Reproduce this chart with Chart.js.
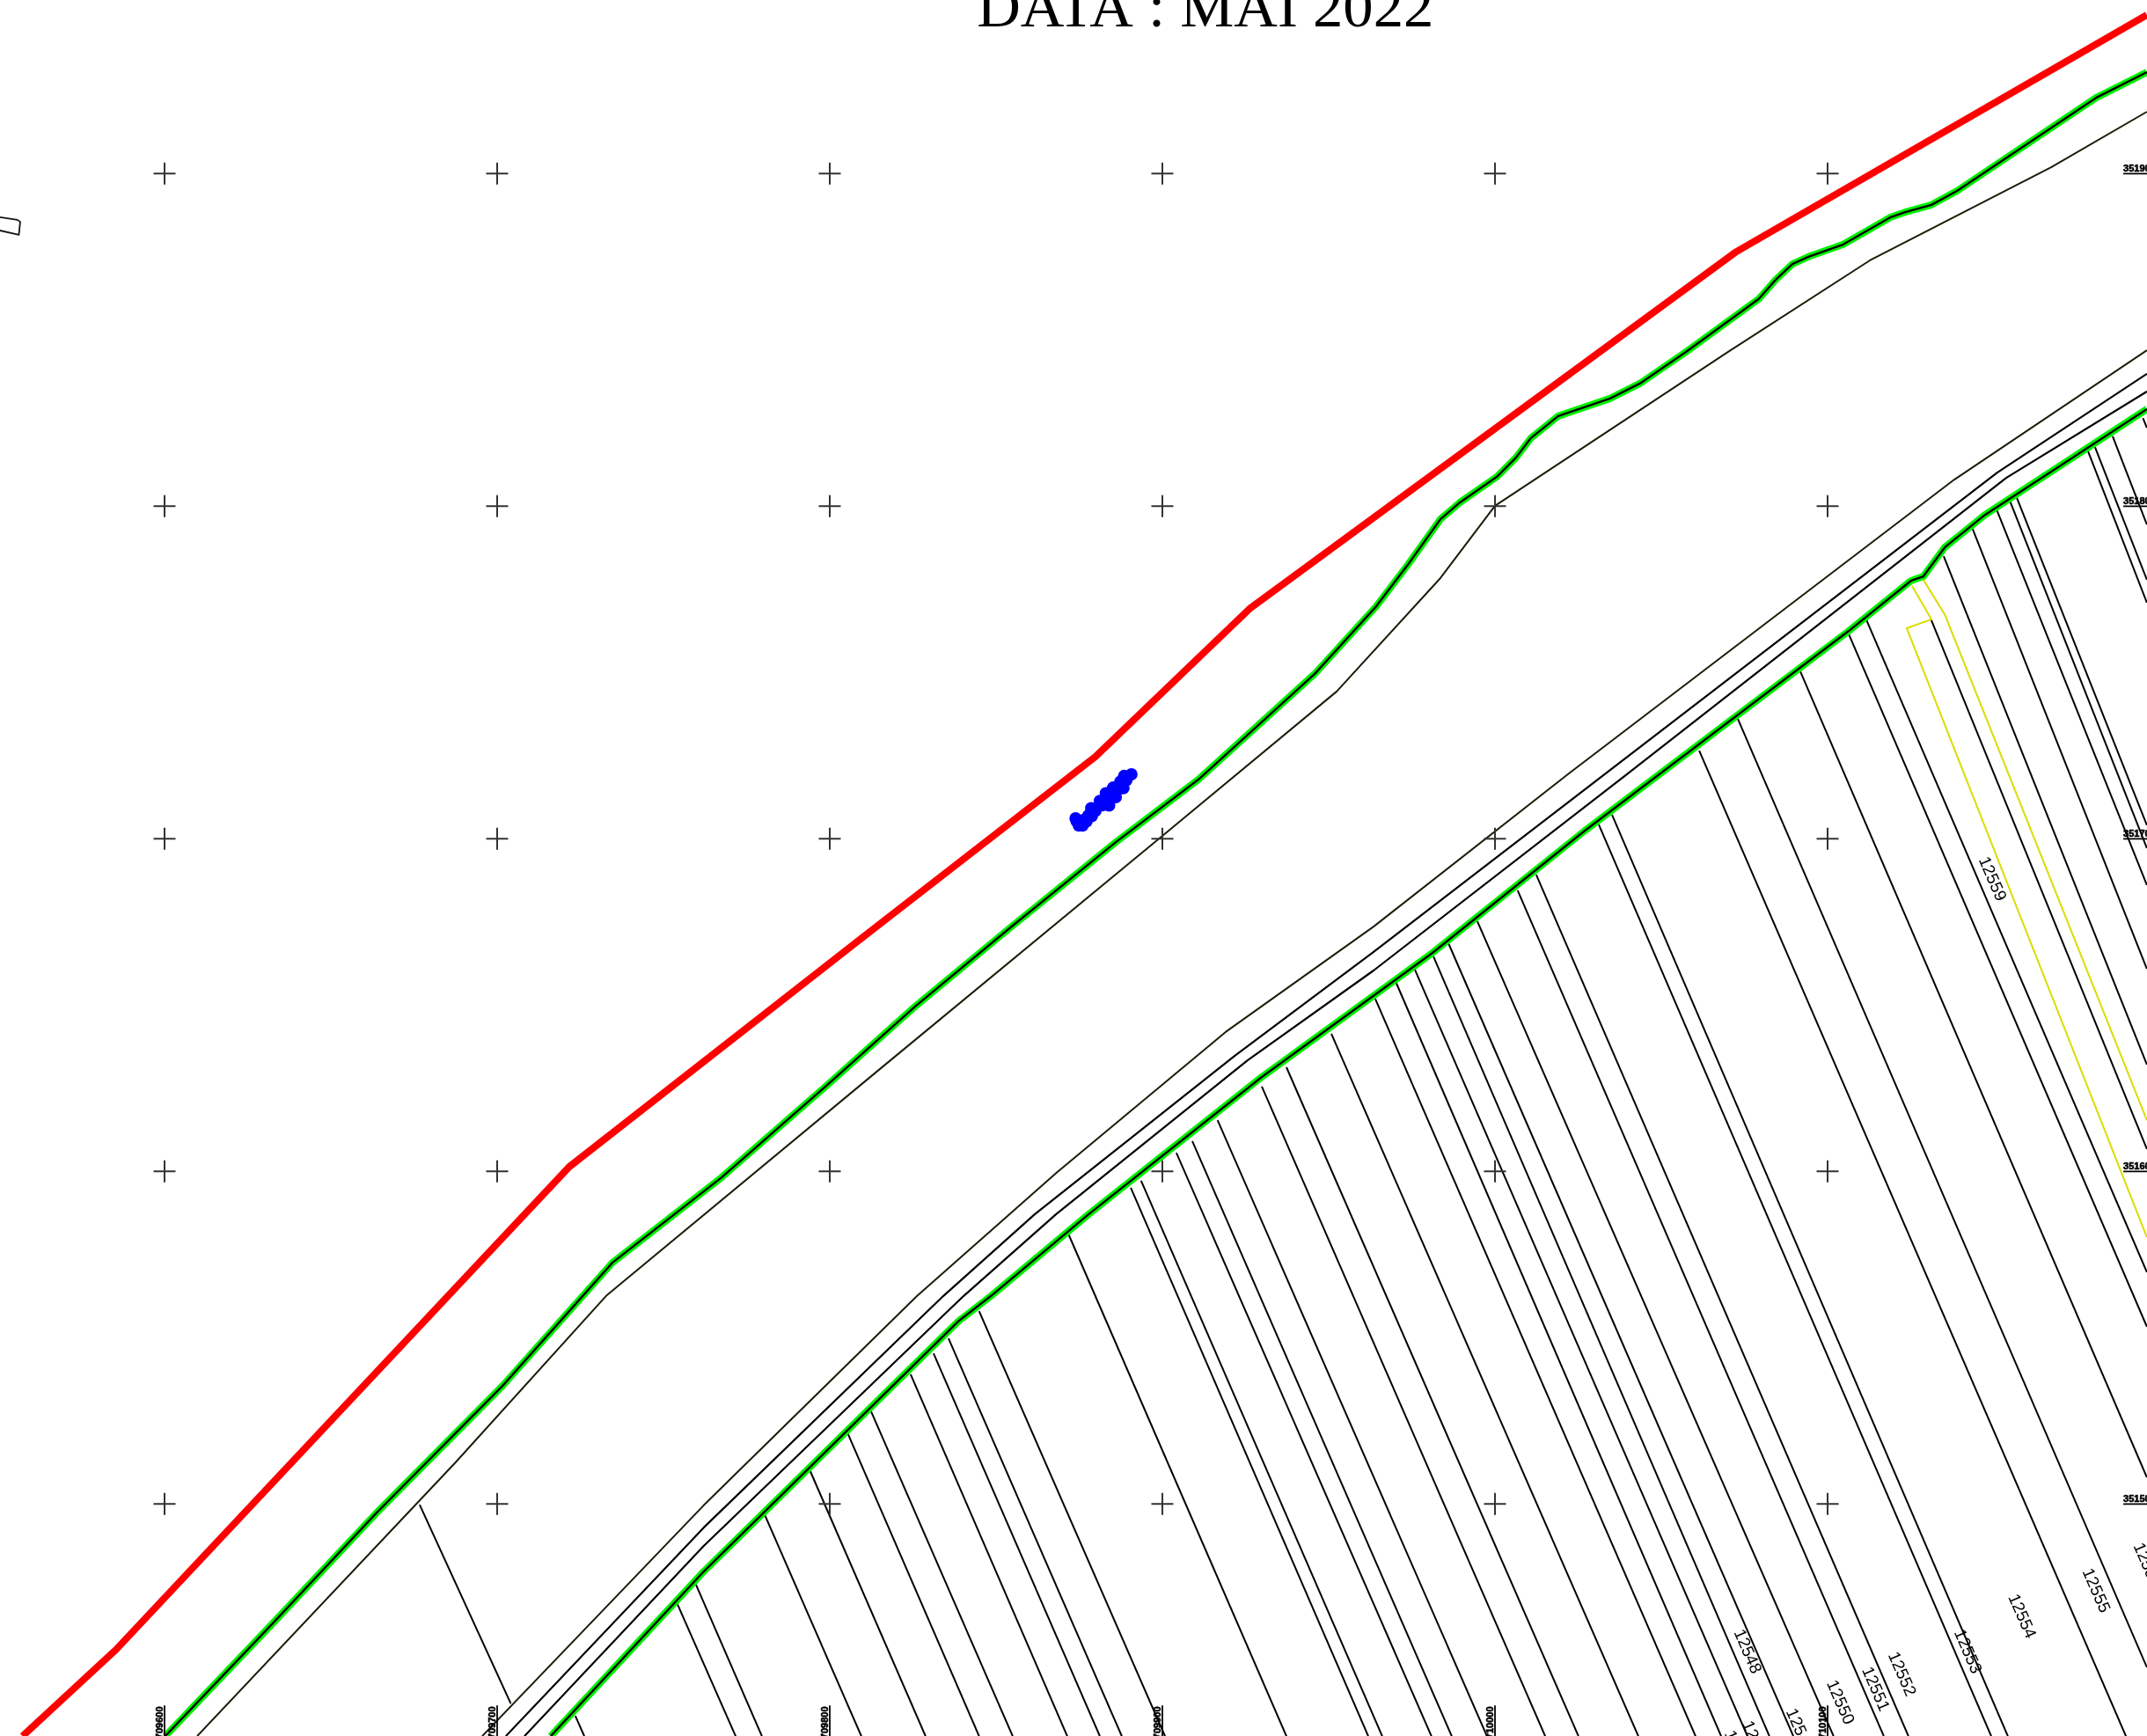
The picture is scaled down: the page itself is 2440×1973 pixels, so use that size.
<!DOCTYPE html>
<html lang="fr">
<head>
<meta charset="utf-8">
<title>DATA : MAI 2022</title>
<script src="https://cdn.jsdelivr.net/npm/chart.js@4/dist/chart.umd.min.js"></script>
<style>
  html, body { margin: 0; padding: 0; background: #fff; overflow: hidden; }
  canvas { display: block; }
</style>
</head>
<body>
<canvas id="plan" width="2440" height="1973"></canvas>
<script>
// All positions are map metres: E = easting - 709000, N = northing - 351000
const titleText = 'DATA : MAI 2022';
const titleE = 912.9, titleN = 944.3;

// grid crosses every 100 m
const gridE = [600, 700, 800, 900, 1000, 1100];
const gridN = [900, 800, 700, 600, 500];
const gridELabels = ['709600', '709700', '709800', '709900', '710000', '710100'];
const gridNLabels = ['351900', '351800', '351700', '351600', '351500'];
const gridELabelN = 429.4;   // where the bottom labels start
const gridNLabelE = 1188.9;  // where the right labels start

// red boundary
const redE = [557.3, 585.4, 721.7, 810.3, 879.9, 926.5, 1072.2, 1196.0];
const redN = [430.2, 456.2, 601.4, 670.7, 724.7, 769.4, 876.3, 947.7];

// upper green line
const greenAE = [600.2, 632.8, 663.8, 701.6, 734.7, 767.5, 798.7, 825.9, 855.0, 886.0, 910.8, 945.8, 964.3, 973.8, 983.6, 989.4, 1000.5, 1006.3, 1010.8, 1019.0, 1034.6, 1043.9, 1057.4, 1079.3, 1084.4, 1089.4, 1094.2, 1104.7, 1119.0, 1123.3, 1131.2, 1138.9, 1180.7, 1196.0];
const greenAN = [430.2, 464.4, 497.4, 535.5, 572.6, 598.2, 625.5, 649.8, 673.9, 699.0, 717.8, 749.6, 769.9, 782.4, 796.1, 801.1, 808.8, 814.6, 820.5, 827.1, 832.4, 837.1, 846.4, 862.3, 868.1, 872.8, 875.0, 878.7, 886.9, 888.4, 890.6, 894.8, 922.8, 930.5];

// thin line under the upper green line
const fenceAE = [609.8, 687.5, 733.0, 815.1, 900.0, 952.4, 983.6, 1000.0, 1070.1, 1112.7, 1167.2, 1196.0];
const fenceAN = [430.2, 512.5, 562.8, 630.8, 700.9, 744.3, 778.4, 800.1, 846.4, 873.9, 901.9, 918.6];

// road, three parallel lines
const fenceBE = [695.5, 762.1, 826.2, 868.2, 919.0, 963.5, 1021.9, 1138.1, 1196.0];
const fenceBN = [430.2, 499.6, 562.5, 599.6, 641.9, 673.6, 719.4, 808.0, 846.9];
const roadCE = [702.6, 762.1, 834.1, 861.6, 921.7, 963.5, 1033.0, 1151.0, 1196.0];
const roadCN = [430.2, 492.9, 562.5, 587.1, 634.7, 666.0, 719.4, 810.1, 839.8];
const roadDE = [708.2, 762.1, 840.2, 868.0, 925.6, 963.5, 1039.7, 1153.7, 1196.0];
const roadDN = [430.2, 487.4, 562.5, 587.1, 633.4, 660.4, 719.4, 808.5, 834.5];

// lower green line
const greenBE = [716.1, 762.1, 838.6, 848.4, 877.8, 929.9, 981.2, 1026.7, 1049.4, 1106.1, 1125.1, 1128.8, 1135.2, 1147.3, 1196.0];
const greenBN = [430.2, 479.7, 554.9, 562.5, 587.1, 628.4, 665.7, 702.2, 719.4, 762.3, 777.6, 778.9, 787.6, 797.4, 829.2];

// parcel limits, one start and one end per line
const parcelStartE = [676.7, 723.5, 754.2, 759.8, 780.4, 793.9, 805.3, 812.4, 824.3, 831.2, 835.7, 844.9, 871.7, 890.5, 893.6, 904.2, 909.0, 916.6, 929.9, 937.3, 950.8, 964.0, 970.3, 975.9, 981.5, 986.0, 994.7, 1006.8, 1012.4, 1031.2, 1035.2, 1061.4, 1073.0, 1091.8, 1106.3, 1111.6, 1131.2, 1134.9, 1143.6, 1150.9, 1154.9, 1156.9, 1178.3, 1180.4, 1185.7, 1194.8];
const parcelStartN = [499.8, 436.3, 469.9, 475.7, 496.9, 510.4, 521.5, 527.9, 539.0, 545.3, 549.8, 558.0, 581.3, 595.1, 597.2, 605.6, 609.1, 615.4, 625.5, 631.3, 641.4, 651.9, 656.7, 660.7, 664.6, 668.6, 675.2, 684.5, 689.2, 704.3, 707.2, 726.5, 736.1, 750.3, 761.7, 766.0, 765.7, 785.0, 793.2, 798.8, 801.4, 802.5, 816.5, 817.8, 821.0, 826.5];
const parcelEndE = [704.1, 726.2, 771.7, 779.6, 809.5, 828.8, 844.9, 855.0, 871.4, 881.2, 887.8, 900.8, 937.3, 961.9, 966.1, 980.9, 987.0, 997.6, 1015.1, 1025.1, 1043.1, 1060.3, 1068.0, 1075.9, 1082.5, 1089.7, 1101.8, 1116.9, 1124.3, 1149.2, 1154.2, 1189.7, 1196.0, 1196.0, 1196.0, 1196.0, 1196.0, 1196.0, 1196.0, 1196.0, 1196.0, 1196.0, 1196.0, 1196.0, 1196.0, 1196.0];
const parcelEndN = [440.0, 430.2, 430.2, 430.2, 430.2, 430.2, 430.2, 430.2, 430.2, 430.2, 430.2, 430.2, 430.2, 430.2, 430.2, 430.2, 430.2, 430.2, 430.2, 430.2, 430.2, 430.2, 430.2, 430.2, 430.2, 430.2, 430.2, 430.2, 430.2, 430.2, 430.2, 430.2, 450.9, 508.0, 553.3, 569.7, 606.7, 632.1, 660.9, 686.1, 697.2, 704.1, 771.0, 777.9, 794.5, 823.6];

// parcel numbers
const parcelNames = ['12546', '12547', '12548', '12549', '12550', '12551', '12552', '12553', '12554', '12555', '12556', '12559'];
const parcelNameE = [1073.0, 1078.3, 1075.8, 1091.5, 1103.7, 1114.3, 1122.2, 1142.0, 1158.3, 1180.6, 1195.9, 1149.4];
const parcelNameN = [425.2, 428.1, 455.6, 431.8, 440.3, 444.3, 448.8, 455.6, 466.2, 473.9, 481.6, 687.9];

// yellow outline
const yellowAE = [1125.4, 1131.2, 1123.8, 1196.0];
const yellowAN = [776.0, 766.0, 763.3, 580.2];
const yellowBE = [1128.8, 1135.2, 1196.0];
const yellowBN = [777.9, 767.5, 615.4];

// small shape on the left edge
const shapeE = [550.5, 555.8, 556.6, 556.2, 550.5];
const shapeN = [886.9, 886.1, 885.5, 881.6, 882.9];

// blue survey points
const blueE = [873.9, 874.2, 874.9, 876.0, 876.4, 877.2, 877.7, 878.6, 878.8, 879.9, 881.2, 882.1, 883.0, 884.0, 884.3, 885.2, 886.0, 887.0, 887.4, 888.3, 888.5, 889.2, 890.7];
const blueN = [706.2, 705.3, 704.0, 704.0, 705.7, 705.2, 707.0, 709.2, 706.8, 708.4, 711.4, 710.1, 713.7, 710.0, 712.3, 715.4, 712.5, 715.0, 717.2, 715.2, 718.9, 717.6, 719.4];

const BLACK = '#000000';
const OLIVE = '#1c1c08';
const YELLOW = '#dcdc00';

function zip(es, ns) {
  return es.map(function (e, i) { return { x: e, y: ns[i] }; });
}

function lineSet(es, ns, color, width) {
  return {
    data: zip(es, ns),
    showLine: true,
    borderColor: color,
    backgroundColor: color,
    borderWidth: width,
    borderJoinStyle: 'round',
    pointRadius: 0,
    tension: 0,
  };
}

// Chart.js paints the first dataset last, so the top layer goes first
const datasets = [];

// crosses
const crossPoints = [];
gridN.forEach(function (n) {
  gridE.forEach(function (e) { crossPoints.push({ x: e, y: n }); });
});
datasets.push({
  data: crossPoints,
  pointStyle: 'cross',
  pointRadius: 12.5,
  pointBorderWidth: 2,
  pointBorderColor: '#333333',
  showLine: false,
});

datasets.push({
  data: zip(blueE, blueN),
  pointStyle: 'circle',
  pointRadius: 7,
  pointBorderWidth: 0,
  pointBackgroundColor: '#0000ff',
  showLine: false,
});

datasets.push(lineSet(redE, redN, '#ff0000', 8));
datasets.push(lineSet(greenAE, greenAN, BLACK, 2.4));
datasets.push(lineSet(greenBE, greenBN, BLACK, 2.4));
datasets.push(lineSet(greenAE, greenAN, '#00f000', 8));
datasets.push(lineSet(greenBE, greenBN, '#00f000', 8));
datasets.push(lineSet(fenceAE, fenceAN, OLIVE, 2));
datasets.push(lineSet(fenceBE, fenceBN, OLIVE, 2));
datasets.push(lineSet(roadCE, roadCN, BLACK, 2.2));
datasets.push(lineSet(roadDE, roadDN, BLACK, 2.2));
datasets.push(lineSet(yellowAE, yellowAN, YELLOW, 2));
datasets.push(lineSet(yellowBE, yellowBN, YELLOW, 2));
datasets.push(lineSet(shapeE, shapeN, '#111111', 1.8));
parcelStartE.forEach(function (e, i) {
  datasets.push(lineSet([e, parcelEndE[i]], [parcelStartN[i], parcelEndN[i]], BLACK, 2));
});

// texts are placed through the same scales as the lines
const planTexts = {
  id: 'planTexts',
  afterDatasetsDraw: function (chart) {
    const c = chart.ctx;
    const sx = chart.scales.x;
    const sy = chart.scales.y;
    c.save();
    c.fillStyle = '#000';
    c.strokeStyle = '#000';
    c.textBaseline = 'alphabetic';

    // title, cut by the top of the sheet
    c.font = '68.7px "Liberation Serif"';
    c.textAlign = 'center';
    c.fillText(titleText, sx.getPixelForValue(titleE), sy.getPixelForValue(titleN));

    // parcel numbers run along the parcel limits
    c.font = '19px "Liberation Sans"';
    parcelNames.forEach(function (name, i) {
      c.save();
      c.translate(sx.getPixelForValue(parcelNameE[i]), sy.getPixelForValue(parcelNameN[i]));
      c.rotate(66.5 * Math.PI / 180);
      c.textBaseline = 'middle';
      c.fillText(name, 0, 0);
      c.restore();
    });

    // right side labels
    c.font = 'bold 11px "Liberation Sans"';
    c.textAlign = 'left';
    gridNLabels.forEach(function (label, i) {
      const px = sx.getPixelForValue(gridNLabelE);
      const py = sy.getPixelForValue(gridN[i]);
      c.lineWidth = 0.6;
      c.fillText(label, px, py - 2);
      c.strokeText(label, px, py - 2);
      c.lineWidth = 1.8;
      c.beginPath();
      c.moveTo(px, py);
      c.lineTo(px + 38, py);
      c.stroke();
    });

    // bottom labels read upwards
    gridELabels.forEach(function (label, i) {
      const px = sx.getPixelForValue(gridE[i]);
      const py = sy.getPixelForValue(gridELabelN);
      c.save();
      c.translate(px, py);
      c.rotate(-Math.PI / 2);
      c.lineWidth = 0.6;
      c.fillText(label, 0, -2);
      c.strokeText(label, 0, -2);
      c.lineWidth = 1.8;
      c.beginPath();
      c.moveTo(0, 0);
      c.lineTo(38, 0);
      c.stroke();
      c.restore();
    });
    c.restore();
  },
};

new Chart(document.getElementById('plan').getContext('2d'), {
  type: 'scatter',
  data: { datasets: datasets },
  plugins: [planTexts],
  options: {
    responsive: false,
    animation: false,
    devicePixelRatio: 1,
    layout: { padding: 0, autoPadding: false },
    plugins: { legend: { display: false }, tooltip: { enabled: false } },
    scales: {
      x: { type: 'linear', display: false, min: 550.53, max: 1196.03 },
      y: { type: 'linear', display: false, min: 430.24, max: 952.2 },
    },
  },
});
</script>
</body>
</html>
